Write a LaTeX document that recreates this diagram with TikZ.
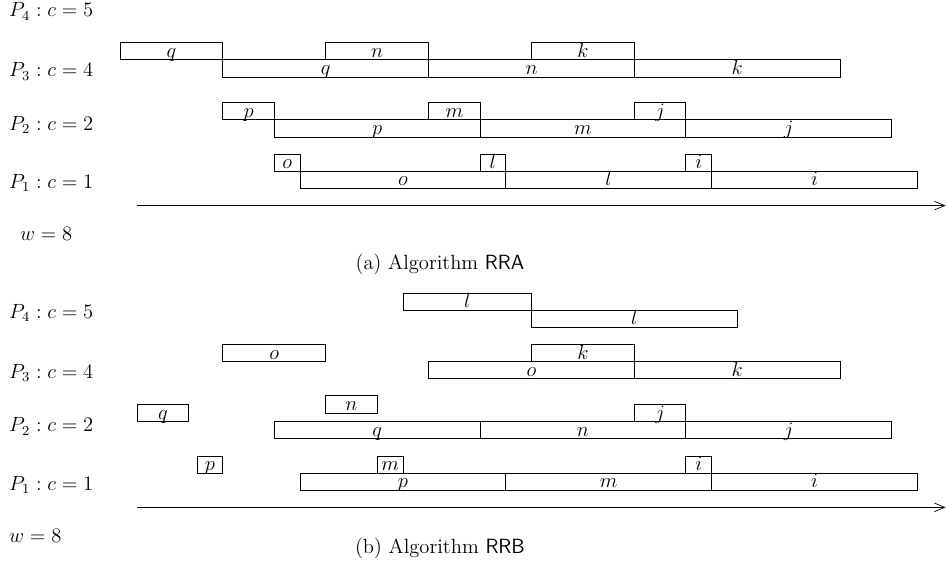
\documentclass[tikz,border=0pt]{standalone}
\usetikzlibrary{arrows.meta}
\tikzset{
  % Set arrowhead
  >={Straight Barb[length=6pt, width=5pt]},
  % job box
  job/.style={draw, line width=0.5pt},
  % job name inside a box
  jname/.style={anchor=base, inner sep=0pt, yshift=1.5pt, font=\large},
  % processor label
  plabel/.style={anchor=base west, inner sep=0pt, font=\large},
  % caption
  figcap/.style={anchor=base, inner sep=0pt, font=\large},
}
% box from #1 to #2 at height #3, named #4
\newcommand{\job}[4]{%
  \draw[job] (#1,#3) rectangle (#2,#3+1);
  \node[jname] (j-#4-#1) at ({(#1+#2)/2},#3) {$#4$};}

\begin{document}
\begin{tikzpicture}[x=15pt, y=10pt]
  \useasboundingbox (-4.666,-4.47) rectangle (32.115,29.59);

  % (a) Algorithm RRA
  \begin{scope}[yshift=176pt]
    \node[plabel] (a4) at (-4.32,11) {$P_4 : c = 5$};
    \node[plabel] (a3) at (-4.32,7.5) {$P_3 : c = 4$};
    \node[plabel] (a2) at (-4.32,4.4) {$P_2 : c = 2$};
    \node[plabel] (a1) at (-4.32,1) {$P_1 : c = 1$};
    \node[plabel] (aw) at (-3.9,-2.05) {$w = 8$};

    \job{0}{4}{8.5}{q}
    \job{8}{12}{8.5}{n}
    \job{16}{20}{8.5}{k}
    \job{4}{12}{7.5}{q}
    \job{12}{20}{7.5}{n}
    \job{20}{28}{7.5}{k}

    \job{4}{6}{5}{p}
    \job{12}{14}{5}{m}
    \job{20}{22}{5}{j}
    \job{6}{14}{4}{p}
    \job{14}{22}{4}{m}
    \job{22}{30}{4}{j}

    \job{6}{7}{2}{o}
    \job{14}{15}{2}{l}
    \job{22}{23}{2}{i}
    \job{7}{15}{1}{o}
    \job{15}{23}{1}{l}
    \job{23}{31}{1}{i}

    \coordinate (as) at (0.667,0);
    \coordinate (ae) at (32.1,0);
    \draw[->] (as) -- (ae);
    \node[figcap] (acap) at (12.44,-3.73) {(a) Algorithm \textsf{RRA}};
  \end{scope}

  % (b) Algorithm RRB
  \node[plabel] (b4) at (-4.32,11) {$P_4 : c = 5$};
  \node[plabel] (b3) at (-4.32,7.5) {$P_3 : c = 4$};
  \node[plabel] (b2) at (-4.32,4.4) {$P_2 : c = 2$};
  \node[plabel] (b1) at (-4.32,1) {$P_1 : c = 1$};
  \node[plabel] (bw) at (-4.32,-2.05) {$w = 8$};

  \job{11}{16}{11.5}{l}
  \job{16}{24}{10.5}{l}

  \job{4}{8}{8.5}{o}
  \job{16}{20}{8.5}{k}
  \job{12}{20}{7.5}{o}
  \job{20}{28}{7.5}{k}

  \job{0.667}{2.667}{5}{q}
  \job{8}{10}{5.5}{n}
  \job{20}{22}{5}{j}
  \job{6}{14}{4}{q}
  \job{14}{22}{4}{n}
  \job{22}{30}{4}{j}

  \job{3}{4}{2}{p}
  \job{10}{11}{2}{m}
  \job{22}{23}{2}{i}
  \job{7}{15}{1}{p}
  \job{15}{23}{1}{m}
  \job{23}{31}{1}{i}

  \coordinate (bs) at (0.667,0);
  \coordinate (be) at (32.1,0);
  \draw[->] (bs) -- (be);
  \node[figcap] (bcap) at (12.44,-2.68) {(b) Algorithm \textsf{RRB}};
\end{tikzpicture}
\end{document}
